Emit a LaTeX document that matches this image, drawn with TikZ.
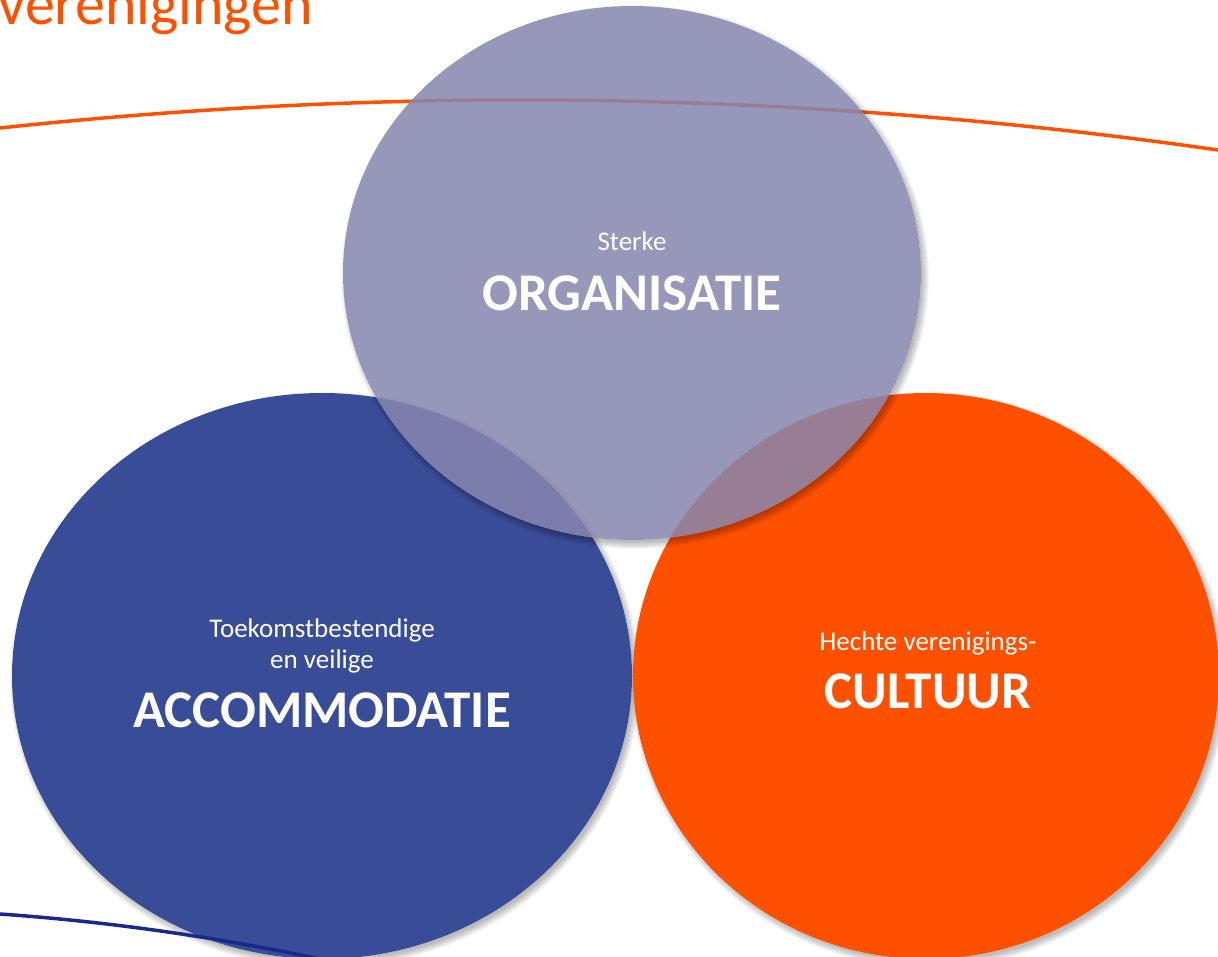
\documentclass[tikz,border=0pt]{standalone}
\usepackage{fontspec}
\setmainfont{Carlito}
\definecolor{orng}{RGB}{255,80,0}
\definecolor{navyfill}{RGB}{57,76,151}
\definecolor{lilac}{RGB}{135,134,174}
\definecolor{navyline}{RGB}{26,40,140}
\newcommand{\softshadow}[4]{%
  \begin{scope}[even odd rule]
    \clip (-20,-20) rectangle (1240,980) (#1,#2) ellipse [x radius=#3pt, y radius=#4pt];
    \foreach \i in {1,...,8} {
      \fill[black, opacity=0.035] (#1+3,#2+4) ellipse [x radius=#3pt-3pt+\i pt, y radius=#4pt-3pt+\i pt];
    }
  \end{scope}}
\begin{document}
\begin{tikzpicture}[x=1pt,y=-1pt,
  small/.style={anchor=base, inner sep=0pt, text=white, font=\fontsize{27}{32}\selectfont},
  big/.style={anchor=base, inner sep=0pt, text=white, font=\fontsize{53}{63}\selectfont\bfseries},
  arcline/.style={line width=3.5pt, draw=orng},
  bottomline/.style={line width=3.5pt, draw=navyline}]
\useasboundingbox (0,0) rectangle (1218,956);
\clip (0,0) rectangle (1218,956);
\fill[white] (0,0) rectangle (1218,956);

% title
\node[anchor=base east, inner sep=0pt, text=orng, font=\fontsize{60}{72}\selectfont] (title) at (313,24) {verenigingen};

% orange arc
\coordinate (arcL) at (0,128);
\coordinate (arcR) at (1218,150);
\draw[arcline] (arcL) .. controls (406,84.4) and (812,91.7) .. (arcR);

% blue circle
\softshadow{322}{676}{310}{283}
\fill[navyfill] (322,676) ellipse [x radius=310pt, y radius=283pt];

% bottom navy line
\coordinate (lineL) at (0,914);
\coordinate (lineR) at (320,959);
\draw[bottomline] (lineL) .. controls (106.7,921.5) and (213.3,936.5) .. (lineR);

% orange circle
\softshadow{926}{676}{293}{283}
\fill[orng] (926,676) ellipse [x radius=293pt, y radius=283pt];

% top circle
\softshadow{632}{273}{289}{267}
\fill[lilac, fill opacity=0.86] (632,273) ellipse [x radius=289pt, y radius=267pt];

% texts
\node[small] (sterke) at (632,250) {Sterke};
\node[big] (organisatie) at (632,310) {ORGANISATIE};
\node[small] (toekomst) at (322,637) {Toekomstbestendige};
\node[small] (veilige) at (322,668) {en veilige};
\node[big] (accommodatie) at (322,727) {ACCOMMODATIE};
\node[small] (hechte) at (928,650) {Hechte verenigings-};
\node[big] (cultuur) at (928,708) {CULTUUR};
\end{tikzpicture}
\end{document}
